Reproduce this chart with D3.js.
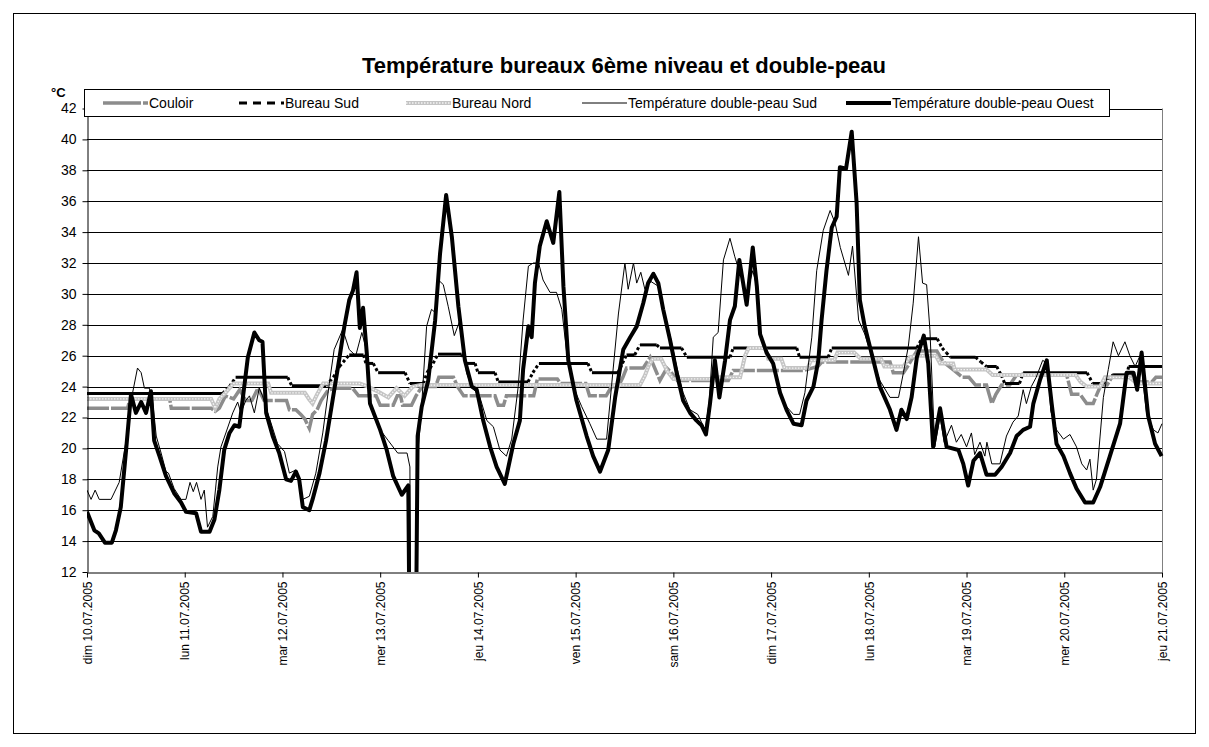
<!DOCTYPE html>
<html>
<head>
<meta charset="utf-8">
<script src="https://cdn.jsdelivr.net/npm/d3@7"></script>
<style>
  body { margin: 0; background: #fff; }
  text { font-family: Arial, "Liberation Sans", sans-serif; }
</style>
</head>
<body>
<script>
// day labels, one per 24 h
var dayLabels = ["dim 10.07.2005", "lun 11.07.2005", "mar 12.07.2005", "mer 13.07.2005",
  "jeu 14.07.2005", "ven 15.07.2005", "sam 16.07.2005", "dim 17.07.2005",
  "lun 18.07.2005", "mar 19.07.2005", "mer 20.07.2005", "jeu 21.07.2005"];

var tempTicks = [12, 14, 16, 18, 20, 22, 24, 26, 28, 30, 32, 34, 36, 38, 40, 42];

// [hours since 10.07 00:00, °C]
var couloir = [[0,22.6],[10,22.6],[10.5,23.2],[20.3,23.2],[20.7,22.6],[30.5,22.6],[31.5,22.4],[32.5,22.6],[34,23.4],[36,23.2],[37.5,23.8],[39,23.1],[40.5,23.1],[42,23.9],[43.5,23.1],[49,23.1],[49.7,22.5],[51.3,22.5],[52.5,22.2],[53.5,21.9],[54.6,21.3],[55.4,22.2],[56.5,22.5],[57.5,23.1],[59,23.7],[60.5,23.9],[65.2,23.9],[66.7,23.4],[71,23.4],[72,22.8],[75.2,22.8],[76.2,23.4],[77,23.4],[77.5,22.8],[79.7,22.8],[80.8,23.4],[82.3,24.0],[85.6,24.0],[86.4,24.6],[90,24.6],[91,24.0],[92.5,23.4],[100.2,23.4],[101,22.8],[102.3,22.8],[103,23.4],[109.7,23.4],[110.2,24.0],[110.6,24.5],[115.5,24.5],[116.3,24.2],[122.5,24.2],[123.4,23.4],[127.5,23.4],[128.8,24.0],[130.5,24.0],[131.6,24.6],[132.5,25.2],[136.6,25.2],[138.3,25.9],[140.7,24.4],[142.4,25.2],[143.5,24.9],[145,24.4],[157.5,24.4],[158.7,25.05],[176,25.05],[179.5,25.3],[180.5,25.6],[197.2,25.6],[198,24.9],[200.5,24.9],[201.5,25.3],[203.8,26.3],[208.7,26.3],[210.3,25.6],[212.7,25.1],[215,24.6],[216.6,24.6],[218.2,24.1],[220.9,24.1],[222.2,22.9],[223.2,23.5],[224.6,24.1],[226.6,24.1],[228.3,24.75],[240.6,24.75],[241.8,23.5],[243.9,23.5],[245.5,22.9],[247.1,22.9],[248,23.5],[249,24.1],[250.5,24.1],[252,24.75],[257,24.75],[258,24.3],[261.5,24.3],[262.5,24.6],[264,24.6]];

var bureauSud = [[0,23.55],[33.3,23.55],[35,24.0],[36.5,24.6],[49.3,24.6],[50.3,24.05],[58.7,24.05],[60.5,24.6],[62,25.3],[64.4,26.05],[67.9,26.05],[68.5,25.5],[70.3,25.5],[71.5,24.9],[78.1,24.9],[79.3,24.2],[82.6,24.2],[83.5,24.9],[85,25.5],[86.2,26.1],[92,26.1],[93.3,25.5],[95.3,25.5],[96,24.9],[100.2,24.9],[101,24.3],[108.3,24.3],[109.5,24.9],[111,25.5],[123,25.5],[124,24.9],[130.4,24.9],[131.5,25.5],[132.5,26.05],[134.5,26.05],[135.8,26.7],[139.9,26.7],[140.7,26.5],[146,26.5],[147.3,25.9],[157.9,25.9],[158.7,26.5],[174.3,26.5],[175,25.9],[182,25.9],[182.9,26.5],[203.8,26.5],[205,27.1],[208.8,27.1],[210,26.5],[211,26.2],[212,25.9],[218.2,25.9],[219.5,25.6],[220.9,25.3],[223.4,25.3],[224.5,24.75],[225.4,24.2],[229,24.2],[229.9,24.9],[245.6,24.9],[247,24.2],[249.5,24.2],[250.5,24.5],[252,24.75],[255.4,24.75],[255.8,25.3],[264,25.3]];

var bureauNord = [[0,23.2],[30.5,23.2],[31.5,22.6],[32.5,23.2],[34,23.6],[36,24.2],[44.5,24.2],[45.2,23.6],[53.5,23.6],[54.5,23.2],[55.4,22.9],[56.5,23.5],[58,24.2],[67,24.2],[69,24.0],[72,23.6],[74,23.3],[76,23.9],[78,23.4],[80,24.0],[82,24.1],[135.8,24.1],[137,24.7],[138,25.4],[139,25.8],[141,25.8],[142.5,25.0],[144,24.5],[153,24.5],[155,24.6],[160.4,24.6],[161.6,26.0],[162.5,26.5],[166.5,26.5],[167.3,25.8],[170.5,25.8],[171.3,25.2],[177,25.2],[177.8,25.7],[183.5,25.7],[184.3,26.2],[188.4,26.2],[190,25.8],[195,25.8],[195.8,25.3],[200.5,25.3],[202,25.9],[204,26.0],[208.5,26.0],[209.5,25.5],[212.7,25.5],[213.1,25.1],[220.9,25.1],[222.4,24.75],[242.8,24.75],[244,24.3],[245.5,24.0],[248.8,24.0],[250,24.6],[256,24.6],[257.9,24.2],[264,24.2]];

var dpSud = [[0,17.3],[1,16.7],[2,17.3],[3,16.7],[5.9,16.7],[7.9,17.8],[9.6,20.5],[11.2,23.6],[12.4,25.2],[13.3,24.9],[14.1,23.9],[15.3,23.9],[16.1,23.1],[17,20.8],[18.2,19.7],[19.4,18.5],[20,18.4],[21.4,17.4],[23.1,16.7],[24.3,16.7],[25.3,17.8],[26.1,17.2],[26.9,17.8],[28,16.7],[28.8,17.3],[29.6,14.9],[30.9,15.6],[32.1,18.8],[32.9,20.1],[34.1,21.0],[35.8,22.3],[37,23.0],[37.8,22.3],[39,23.1],[39.9,23.4],[41.1,22.3],[42.3,23.9],[43.1,23.4],[44.4,22.3],[46.8,20.3],[48.5,19.8],[49.7,18.4],[51.3,18.6],[53,16.7],[54.6,16.9],[56.2,18.4],[57.9,21.0],[59.5,24.2],[60.7,26.4],[62.8,27.7],[64.4,26.4],[66,26.0],[67.5,27.5],[68.5,26.5],[69.5,23.0],[72,21.2],[74,20.5],[76.3,19.7],[78.6,19.7],[79.3,18.8],[79.6,2],[80.5,2],[81,19],[82,22],[83.4,27.9],[84.6,29.0],[85.5,28.8],[86.3,30.9],[87.5,30.6],[88.7,29.2],[90.2,27.3],[91.6,28.3],[93.2,24.9],[94.5,24.0],[96.5,23.3],[98.2,21.8],[99.8,21.4],[101.4,19.9],[103,19.5],[104.3,20.6],[105.9,24.0],[107.1,28.3],[108.4,31.8],[109.6,32.0],[110.9,32.0],[112,30.9],[113.7,30.1],[115.3,30.1],[116.6,29.0],[117.8,26.2],[119.4,24.0],[121.5,22.7],[123.5,21.6],[125.2,20.6],[127.6,20.6],[128.8,24.0],[130.5,28.7],[132.1,32.0],[132.9,30.3],[134.2,32.0],[135,30.7],[136,31.4],[137,30.3],[138.5,30.8],[140.3,30.5],[141.5,29.0],[143.2,27.3],[144.8,25.3],[146.4,23.6],[148.1,22.5],[150,22.2],[151.8,21.2],[152.8,23.0],[153.8,27.2],[155,27.5],[156.3,32.2],[157.9,33.6],[159.1,32.4],[160.4,31.3],[162,30.0],[163.5,31.5],[164.5,30.5],[165.3,27.4],[166.9,26.2],[168.5,25.5],[170.2,23.6],[171.8,22.7],[173.5,22.2],[175,22.2],[176.3,23.6],[178,27.2],[179.2,31.5],[180.8,34.1],[182.5,35.4],[183.7,34.6],[185,33.0],[187,31.2],[188,33.1],[189.5,28.3],[191,27.4],[193,25.7],[194.7,24.4],[197.2,23.3],[199.3,23.3],[200.5,24.9],[201.7,26.6],[202.9,29.4],[204.2,33.7],[205.2,30.7],[206.2,30.6],[207,27.7],[208.2,20.1],[209.5,22.1],[210.5,20.4],[212.3,21.5],[213.5,20.4],[214.7,20.9],[216,20.1],[217.2,21.0],[218,19.6],[219.3,20.4],[220.5,19.5],[221,20.4],[222.2,19.0],[224.2,19.0],[225.8,20.8],[227.4,21.7],[228.7,22.1],[229.9,23.8],[230.7,22.9],[231.9,24.0],[233.1,24.6],[234.7,25.7],[235.9,25.5],[236.7,22.4],[238.1,21.2],[239.8,20.6],[241.4,20.9],[243,20.1],[244.3,19.0],[245.5,18.6],[246.3,19.3],[247.1,17.3],[247.9,18.0],[248.8,20.8],[249.6,23.3],[250.8,25.1],[252,26.9],[253.3,26.0],[254.9,26.9],[256.1,26.0],[257.4,25.3],[258.6,26.0],[260.2,22.3],[261.9,21.2],[263,21.0],[264,21.6]];

var dpOuest = [[0,15.9],[1.8,14.7],[2.9,14.5],[4.4,13.9],[6.1,13.9],[7.1,14.7],[8.3,16.2],[9.6,19.9],[10.8,23.5],[12,22.3],[13.3,23.0],[14.5,22.3],[15.7,23.7],[16.5,20.5],[17.8,19.5],[19.4,18.2],[21.4,17.1],[23.1,16.5],[24.3,15.9],[26.8,15.8],[28,14.6],[30.1,14.6],[31.3,15.4],[32.5,17.3],[33.7,19.9],[35,21.0],[36.2,21.5],[37.4,21.4],[38.2,23.1],[39.5,25.9],[41.1,27.5],[42.3,27.0],[43.1,26.9],[44,22.3],[45.6,20.8],[47.2,19.7],[48.9,18.0],[50.1,17.9],[51.3,18.5],[52.1,18.0],[53,16.2],[54.6,16.0],[55.4,16.7],[57.1,18.4],[58.7,20.5],[60.3,23.1],[61.9,25.7],[63.2,27.9],[64.4,29.6],[65.3,30.2],[66.2,31.4],[67,27.8],[67.8,29.1],[68.7,26.2],[69.5,22.9],[72,21.2],[73.6,19.9],[75.2,18.2],[77.3,17.0],[78.9,17.6],[79.4,2],[80.6,2],[81.2,20.8],[82.2,22.7],[83.8,24.4],[85.5,28.3],[86.7,32.6],[88.2,36.4],[89.6,33.7],[91.2,29.2],[92.8,25.7],[94.5,24.0],[95.7,23.8],[97.3,21.8],[99,20.1],[100.6,18.8],[102.6,17.7],[104.7,20.3],[106.3,21.8],[107.1,25.1],[108.4,27.9],[109.2,27.2],[110,30.7],[111.2,33.1],[112.9,34.7],[114.5,33.3],[116,36.6],[117,30.5],[118.2,25.7],[120.2,23.1],[122.7,20.8],[124.3,19.5],[126,18.5],[128,19.9],[129.7,23.3],[131.7,26.4],[133.4,27.2],[135,27.9],[136.6,29.4],[137.8,30.7],[139.1,31.3],[140.3,30.7],[141.5,29.0],[143.2,27.0],[144.8,24.9],[146.4,23.1],[148.1,22.3],[149.7,21.8],[150.9,21.5],[152,20.9],[153,22.9],[154.2,25.7],[155.3,23.3],[156.7,25.7],[157.9,28.3],[159.1,29.2],[160.2,32.2],[162,29.3],[163.5,33.0],[164.5,30.5],[165.3,27.4],[166.9,26.2],[168.5,25.5],[170.2,23.6],[171.8,22.5],[173.5,21.6],[175.5,21.5],[176.7,23.1],[178.4,24.0],[179.6,25.7],[180.4,28.3],[181.6,31.5],[182.9,34.3],[184.1,35.0],[184.9,38.2],[186.4,38.1],[187.8,40.5],[189,35.9],[189.8,29.6],[191,27.9],[193.1,25.7],[194.7,24.0],[197.2,22.5],[198.8,21.2],[200,22.5],[201.3,21.9],[202.5,23.3],[203.8,25.9],[205.5,27.3],[206.6,25.5],[207.8,20.1],[209.5,22.6],[211.1,20.1],[214,19.9],[215.2,19.0],[216.4,17.6],[217.7,19.2],[219.3,19.7],[220.9,18.3],[223,18.3],[224.6,18.8],[226.7,19.7],[228.3,20.8],[229.9,21.2],[231.6,21.4],[232.4,22.9],[234,24.4],[235.7,25.7],[236.9,22.9],[238.1,20.3],[239.8,19.5],[241.4,18.4],[243,17.4],[245.1,16.5],[247.1,16.5],[248.8,17.5],[251.2,19.5],[253.7,21.6],[255.3,24.9],[257,24.9],[257.9,23.8],[259,26.2],[260.6,22.1],[262.3,20.3],[263.9,19.5]];

var W = 1209, H = 747;
var plot = {left: 87, right: 1162, top: 108.5, bottom: 572};

var svg = d3.select("body").append("svg")
    .attr("width", W)
    .attr("height", H);

// outer frame
svg.append("rect")
    .attr("x", 13.5).attr("y", 13.5)
    .attr("width", 1182).attr("height", 720)
    .attr("fill", "#fff").attr("stroke", "#000").attr("stroke-width", 1);

var x = d3.scaleLinear().domain([0, 264]).range([plot.left, plot.right]);
var y = d3.scaleLinear().domain([12, 42]).range([plot.bottom, plot.top]);

// gridlines
svg.append("g")
  .selectAll("line")
  .data(tempTicks.filter(function(d) { return d > 12; }))
  .enter().append("line")
    .attr("x1", plot.left).attr("x2", plot.right)
    .attr("y1", function(d) { return Math.round(y(d)) + 0.5; })
    .attr("y2", function(d) { return Math.round(y(d)) + 0.5; })
    .attr("stroke", "#000").attr("stroke-width", 1);

// plot area right border
svg.append("line")
    .attr("x1", plot.right + 0.5).attr("x2", plot.right + 0.5)
    .attr("y1", plot.top).attr("y2", plot.bottom)
    .attr("stroke", "#808080");

svg.append("clipPath").attr("id", "clip")
  .append("rect")
    .attr("x", plot.left).attr("y", plot.top - 5)
    .attr("width", plot.right - plot.left + 2).attr("height", plot.bottom - plot.top + 5);

var line = d3.line()
    .x(function(d) { return x(d[0]); })
    .y(function(d) { return y(d[1]); });

var lines = svg.append("g").attr("clip-path", "url(#clip)");

// Couloir
lines.append("path")
    .datum(couloir)
    .attr("d", line)
    .attr("fill", "none")
    .attr("stroke", "#8c8c8c")
    .attr("stroke-width", 3.5)
    .attr("stroke-dasharray", "22,2");

// Bureau Sud: flat parts look solid, transitions dotted
var sudSegs = d3.pairs(bureauSud);
lines.append("g").selectAll("path")
  .data(sudSegs)
  .enter().append("path")
    .attr("d", function(d) { return line(d); })
    .attr("fill", "none")
    .attr("stroke", "#000")
    .attr("stroke-width", 3)
    .attr("stroke-dasharray", function(d) { return d[0][1] === d[1][1] ? null : "3,2.5"; });

// Bureau Nord (light hatched)
lines.append("path")
    .datum(bureauNord)
    .attr("d", line)
    .attr("fill", "none")
    .attr("stroke", "#c4c4c4")
    .attr("stroke-width", 4);
lines.append("path")
    .datum(bureauNord)
    .attr("d", line)
    .attr("fill", "none")
    .attr("stroke", "#f4f4f4")
    .attr("stroke-width", 1.3)
    .attr("stroke-dasharray", "1.5,1.5");

// double-peau Sud
lines.append("path")
    .datum(dpSud)
    .attr("d", line)
    .attr("fill", "none")
    .attr("stroke", "#000")
    .attr("stroke-width", 1)
    .attr("stroke-linejoin", "round");

// double-peau Ouest
lines.append("path")
    .datum(dpOuest)
    .attr("d", line)
    .attr("fill", "none")
    .attr("stroke", "#000")
    .attr("stroke-width", 4)
    .attr("stroke-linejoin", "round");

// y axis
var yAxis = svg.append("g")
    .attr("transform", "translate(" + (plot.left + 0.5) + ",0)")
    .call(d3.axisLeft(y).tickValues(tempTicks).tickSize(5).tickSizeOuter(0));
yAxis.selectAll("text").attr("font-size", 14).attr("fill", "#000")
    .attr("font-family", "Arial, 'Liberation Sans', sans-serif").attr("dx", "-3");
yAxis.selectAll("line, path").attr("stroke", "#000");

// x axis
var xAxis = svg.append("g")
    .attr("transform", "translate(0," + (plot.bottom + 0.5) + ")")
    .call(d3.axisBottom(x)
      .tickValues(d3.range(0, 265, 24))
      .tickSize(5).tickSizeOuter(0)
      .tickFormat(function(d, i) { return dayLabels[i]; }));
xAxis.selectAll("line, path").attr("stroke", "#000");
xAxis.selectAll("text")
    .attr("font-size", 12).attr("fill", "#000")
    .attr("font-family", "Arial, 'Liberation Sans', sans-serif")
    .attr("transform", "rotate(-90)")
    .attr("text-anchor", "end")
    .attr("x", -9).attr("y", 0).attr("dy", "0.35em");

// title and unit
svg.append("text")
    .attr("x", 624).attr("y", 73)
    .attr("text-anchor", "middle")
    .attr("font-size", 22).attr("font-weight", "bold")
    .text("Température bureaux 6ème niveau et double-peau");
svg.append("text")
    .attr("x", 51).attr("y", 97)
    .attr("font-size", 13).attr("font-weight", "bold")
    .text("°C");

// legend
var legend = svg.append("g");
legend.append("rect")
    .attr("x", 84.5).attr("y", 89.5)
    .attr("width", 1025).attr("height", 27)
    .attr("fill", "#fff").attr("stroke", "#000");

var legendItems = [
  {name: "Couloir", x: 103},
  {name: "Bureau Sud", x: 239},
  {name: "Bureau Nord", x: 406},
  {name: "Température double-peau Sud", x: 582},
  {name: "Température double-peau Ouest", x: 846}
];
var ly = 103;
var sym = legend.selectAll("g.item").data(legendItems).enter().append("g")
    .attr("class", "item")
    .attr("transform", function(d) { return "translate(" + d.x + "," + ly + ")"; });
sym.append("text")
    .attr("x", 46).attr("dy", "0.35em")
    .attr("font-size", 14)
    .text(function(d) { return d.name; });

function symLine(i) { return d3.select(sym.nodes()[i]).append("line").attr("x1", 0).attr("x2", 45).attr("fill", "none"); }
symLine(0).attr("stroke", "#8c8c8c").attr("stroke-width", 3.5).attr("stroke-dasharray", "38,2");
symLine(1).attr("stroke", "#000").attr("stroke-width", 3).attr("stroke-dasharray", "8,6");
symLine(2).attr("stroke", "#c4c4c4").attr("stroke-width", 4);
symLine(2).attr("stroke", "#f4f4f4").attr("stroke-width", 1.3).attr("stroke-dasharray", "1.5,1.5");
symLine(3).attr("stroke", "#000").attr("stroke-width", 1);
symLine(4).attr("stroke", "#000").attr("stroke-width", 4);
</script>
</body>
</html>
